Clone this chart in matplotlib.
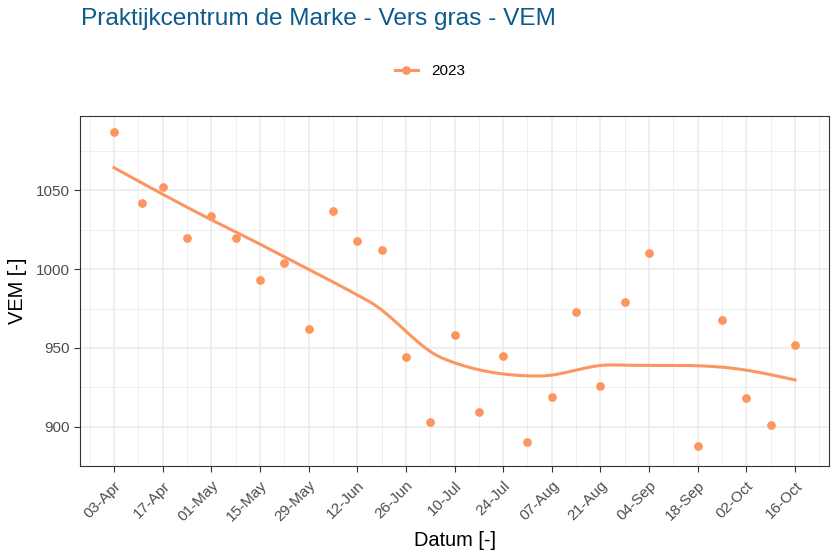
import numpy as np
import pandas as pd
import matplotlib
matplotlib.use("Agg")
import matplotlib.pyplot as plt
import matplotlib.dates as mdates
from matplotlib.lines import Line2D

plt.rcParams['font.family'] = ['Liberation Sans', 'DejaVu Sans']

dates = ['2023-04-03', '2023-04-11', '2023-04-17', '2023-04-24', '2023-05-01',
         '2023-05-08', '2023-05-15', '2023-05-22', '2023-05-29', '2023-06-05',
         '2023-06-12', '2023-06-19', '2023-06-26', '2023-07-03', '2023-07-10',
         '2023-07-17', '2023-07-24', '2023-07-31', '2023-08-07', '2023-08-14',
         '2023-08-21', '2023-08-28', '2023-09-04', '2023-09-18', '2023-09-25',
         '2023-10-02', '2023-10-09', '2023-10-16']
vem = [1087, 1042, 1052, 1020, 1034, 1020, 993, 1004, 962, 1037,
       1018, 1012, 944, 903, 958, 909, 945, 890, 919, 973,
       926, 979, 1010, 888, 968, 918, 901, 952]
series_label = '2023'
color = '#FC9660'


def local_fit(x, y, x0, q):
    # weighted local quadratic with tricube weights; returns value and slope
    d = np.abs(x - x0)
    h = np.sort(d)[q - 1]
    w = np.clip(1 - (d / h) ** 3, 0, None) ** 3
    X = np.column_stack([np.ones(len(x)), x - x0, (x - x0) ** 2])
    W = np.sqrt(w)
    beta = np.linalg.lstsq(X * W[:, None], y * W, rcond=None)[0]
    return beta[0], beta[1]


def loess(x, y, xs, span=0.75, cell=0.2):
    # loess with kd-tree vertices + cubic Hermite interpolation (R's default surface)
    n = len(x)
    q = int(np.floor(n * span))
    fc = int(np.floor(n * span * cell))
    xsort = np.sort(x)
    mu = 0.005 * (xsort[-1] - xsort[0])
    verts = {xsort[0] - mu, xsort[-1] + mu}

    def split(p):
        if len(p) <= fc:
            return
        m = (len(p) - 1) // 2
        v = (p[m] + p[m + 1]) / 2
        verts.add(v)
        split(p[:m + 1])
        split(p[m + 1:])

    split(xsort)
    vx = np.array(sorted(verts))
    fits = np.array([local_fit(x, y, v, q) for v in vx])
    vy, vs = fits[:, 0], fits[:, 1]
    out = []
    for x0 in xs:
        i = min(max(np.searchsorted(vx, x0) - 1, 0), len(vx) - 2)
        a, b = vx[i], vx[i + 1]
        hh = b - a
        t = (x0 - a) / hh
        h00 = 2 * t**3 - 3 * t**2 + 1
        h10 = t**3 - 2 * t**2 + t
        h01 = -2 * t**3 + 3 * t**2
        h11 = t**3 - t**2
        out.append(h00 * vy[i] + h10 * hh * vs[i] + h01 * vy[i + 1] + h11 * hh * vs[i + 1])
    return np.array(out)


dt = pd.to_datetime(dates)
days = np.array((dt - dt[0]).days, dtype=float)
yv = np.array(vem, dtype=float)
grid_days = np.linspace(days.min(), days.max(), 300)
smooth = loess(days, yv, grid_days)
grid_dt = dt[0] + pd.to_timedelta(grid_days, unit='D')

fig = plt.figure(figsize=(8.4, 5.6), dpi=100)
ax = fig.add_axes([80 / 840, 1 - 466 / 560, 749 / 840, 350 / 560])

ax.plot(grid_dt, smooth, color=color, lw=2.2, zorder=3)
ax.plot(dt, yv, 'o', color=color, ms=6.3, mew=0, zorder=4)

pad = (dt[-1] - dt[0]) * 0.05
ax.set_xlim(dt[0] - pad, dt[-1] + pad)
ax.set_ylim(878.6, 1097.3)

major = pd.date_range('2023-04-03', '2023-10-16', freq='14D')
minor = pd.date_range('2023-03-27', '2023-10-23', freq='14D')
ax.set_xticks(major)
ax.set_xticks(minor, minor=True)
ax.xaxis.set_major_formatter(mdates.DateFormatter('%d-%b'))
ax.set_yticks([900, 950, 1000, 1050])
ax.set_yticks([875, 925, 975, 1025, 1075], minor=True)

ax.grid(which='major', color='#EBEBEB', lw=1.1, zorder=0)
ax.grid(which='minor', color='#EBEBEB', lw=0.6, zorder=0)
ax.set_axisbelow(True)
for s in ax.spines.values():
    s.set_color('#333333')
    s.set_linewidth(0.8)
ax.tick_params(which='major', length=4, width=0.8, color='#333333',
               labelcolor='#4D4D4D', labelsize=11)
ax.tick_params(axis='x', which='major', pad=5)
ax.tick_params(which='minor', length=0)
plt.setp(ax.get_xticklabels(), rotation=45, ha='right', rotation_mode='anchor')

ax.set_xlabel('Datum [-]', fontsize=14.4, labelpad=5)
ax.set_ylabel('VEM [-]', fontsize=14.4, labelpad=6)

fig.text(81 / 840, 1 - 19 / 560, 'Praktijkcentrum de Marke - Vers gras - VEM',
         fontsize=17.6, color='#0D5A8C', va='center', ha='left')

handle = Line2D([], [], color=color, lw=2.2, marker='o', ms=6.3, mew=0)
fig.legend([handle], [series_label], loc='center', frameon=False,
           bbox_to_anchor=(430 / 840, 1 - 71 / 560), fontsize=11,
           handlelength=1.5, handletextpad=0.9)

fig.savefig('out.png', dpi=100)
